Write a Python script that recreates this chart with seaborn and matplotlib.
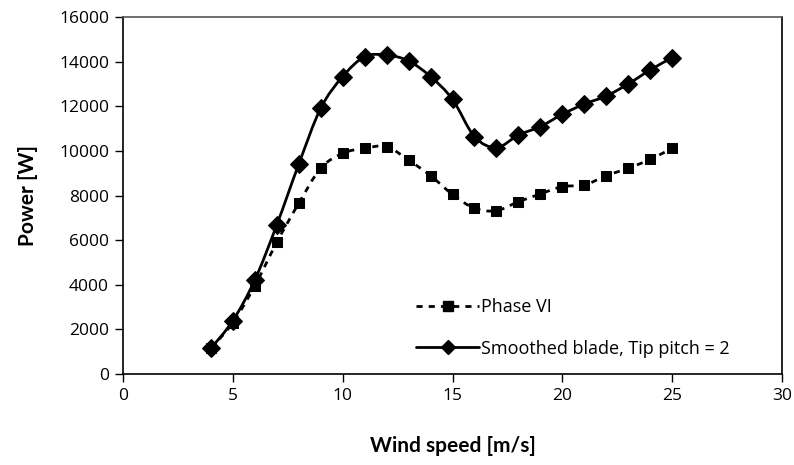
import matplotlib
matplotlib.use("Agg")
import matplotlib.pyplot as plt
import seaborn as sns
import pandas as pd
import numpy as np
from matplotlib.path import Path
from matplotlib.patches import PathPatch
from matplotlib.lines import Line2D

wind_speed = [4, 5, 6, 7, 8, 9, 10, 11, 12, 13, 14, 15, 16, 17, 18, 19, 20, 21, 22, 23, 24, 25]
phase_vi = [1150, 2300, 3950, 5900, 7650, 9220, 9890, 10120, 10190, 9590, 8890, 8050,
            7430, 7320, 7720, 8070, 8400, 8470, 8890, 9220, 9620, 10120]
smoothed = [1150, 2390, 4210, 6680, 9400, 11910, 13330, 14220, 14300, 14030, 13330, 12310,
            10640, 10150, 10710, 11090, 11640, 12100, 12460, 13000, 13630, 14180]
series_names = ["Phase VI", "Smoothed blade, Tip pitch = 2"]
x_ticks = [0, 5, 10, 15, 20, 25, 30]
y_ticks = [0, 2000, 4000, 6000, 8000, 10000, 12000, 14000, 16000]

sns.set_theme(style="white")
plt.rcParams["font.family"] = ["Open Sans", "DejaVu Sans"]
plt.rcParams["text.color"] = "black"
plt.rcParams["axes.labelcolor"] = "black"

df = pd.DataFrame({
    "x": wind_speed * 2,
    "y": phase_vi + smoothed,
    "series": [series_names[0]] * len(wind_speed) + [series_names[1]] * len(wind_speed),
})

fig = plt.figure(figsize=(7.94, 4.65), dpi=100)
ax = fig.add_axes([0.1549, 0.1957, 0.8300, 0.7677])


def smooth_path(xs, ys):
    """Excel-style smoothed line as cubic Bezier segments through the data points."""
    xs = np.asarray(xs, float)
    ys = np.asarray(ys, float)
    pts = np.column_stack([xs, ys])
    n = len(pts)
    verts = [pts[0]]
    codes = [Path.MOVETO]
    t = 1.0 / 6.0
    for i in range(n - 1):
        p0 = pts[i - 1] if i > 0 else pts[i]
        p1 = pts[i]
        p2 = pts[i + 1]
        p3 = pts[i + 2] if i + 2 < n else pts[i + 1]
        c1 = p1 + (p2 - p0) * t
        c2 = p2 - (p3 - p1) * t
        verts += [c1, c2, p2]
        codes += [Path.CURVE4] * 3
    return Path(verts, codes)


# smoothed connecting curves
ax.add_patch(PathPatch(smooth_path(wind_speed, phase_vi), fill=False, edgecolor="black",
                       linewidth=2.0, linestyle=(0, (2.2, 2.2)), zorder=2))
ax.add_patch(PathPatch(smooth_path(wind_speed, smoothed), fill=False, edgecolor="black",
                       linewidth=2.0, linestyle="-", zorder=2))

# markers
sns.lineplot(data=df, x="x", y="y", hue="series", style="series",
             palette=["black", "black"],
             dashes={series_names[0]: "", series_names[1]: ""},
             markers={series_names[0]: "s", series_names[1]: "D"},
             markersize=7, linewidth=0, markeredgecolor="black",
             ax=ax, legend=False, zorder=3)
for ln in ax.lines:
    ln.set_linestyle("none")
ax.lines[1].set_markersize(9.5)

ax.set_xlim(0, 30)
ax.set_ylim(0, 16000)
ax.set_xticks(x_ticks)
ax.set_yticks(y_ticks)
ax.tick_params(axis="both", direction="out", length=6, width=1, color="black",
               labelsize=12.5, labelcolor="black", pad=4, bottom=True, left=True)
for s in ax.spines.values():
    s.set_color("black")
    s.set_linewidth(1.2)
ax.spines["top"].set_color("#555555")

label_font = dict(family=["Lato", "DejaVu Sans"], fontsize=15, fontweight="bold", color="black")
ax.set_xlabel("Wind speed [m/s]", labelpad=23, **label_font)
ax.set_ylabel("Power [W]", labelpad=15, **label_font)

handles = [
    Line2D([], [], color="black", linestyle=(0, (2.2, 2.2)), linewidth=2.0, marker="s", markersize=6.5),
    Line2D([], [], color="black", linestyle="-", linewidth=2.0, marker="D", markersize=7.5),
]
leg = ax.legend(handles, series_names, loc="lower left", bbox_to_anchor=(0.42, 0.0),
                frameon=False, fontsize=13, handlelength=3.5, handletextpad=0.1,
                labelspacing=1.3)
for t in leg.get_texts():
    t.set_color("black")

fig.savefig("out.png", dpi=100)
